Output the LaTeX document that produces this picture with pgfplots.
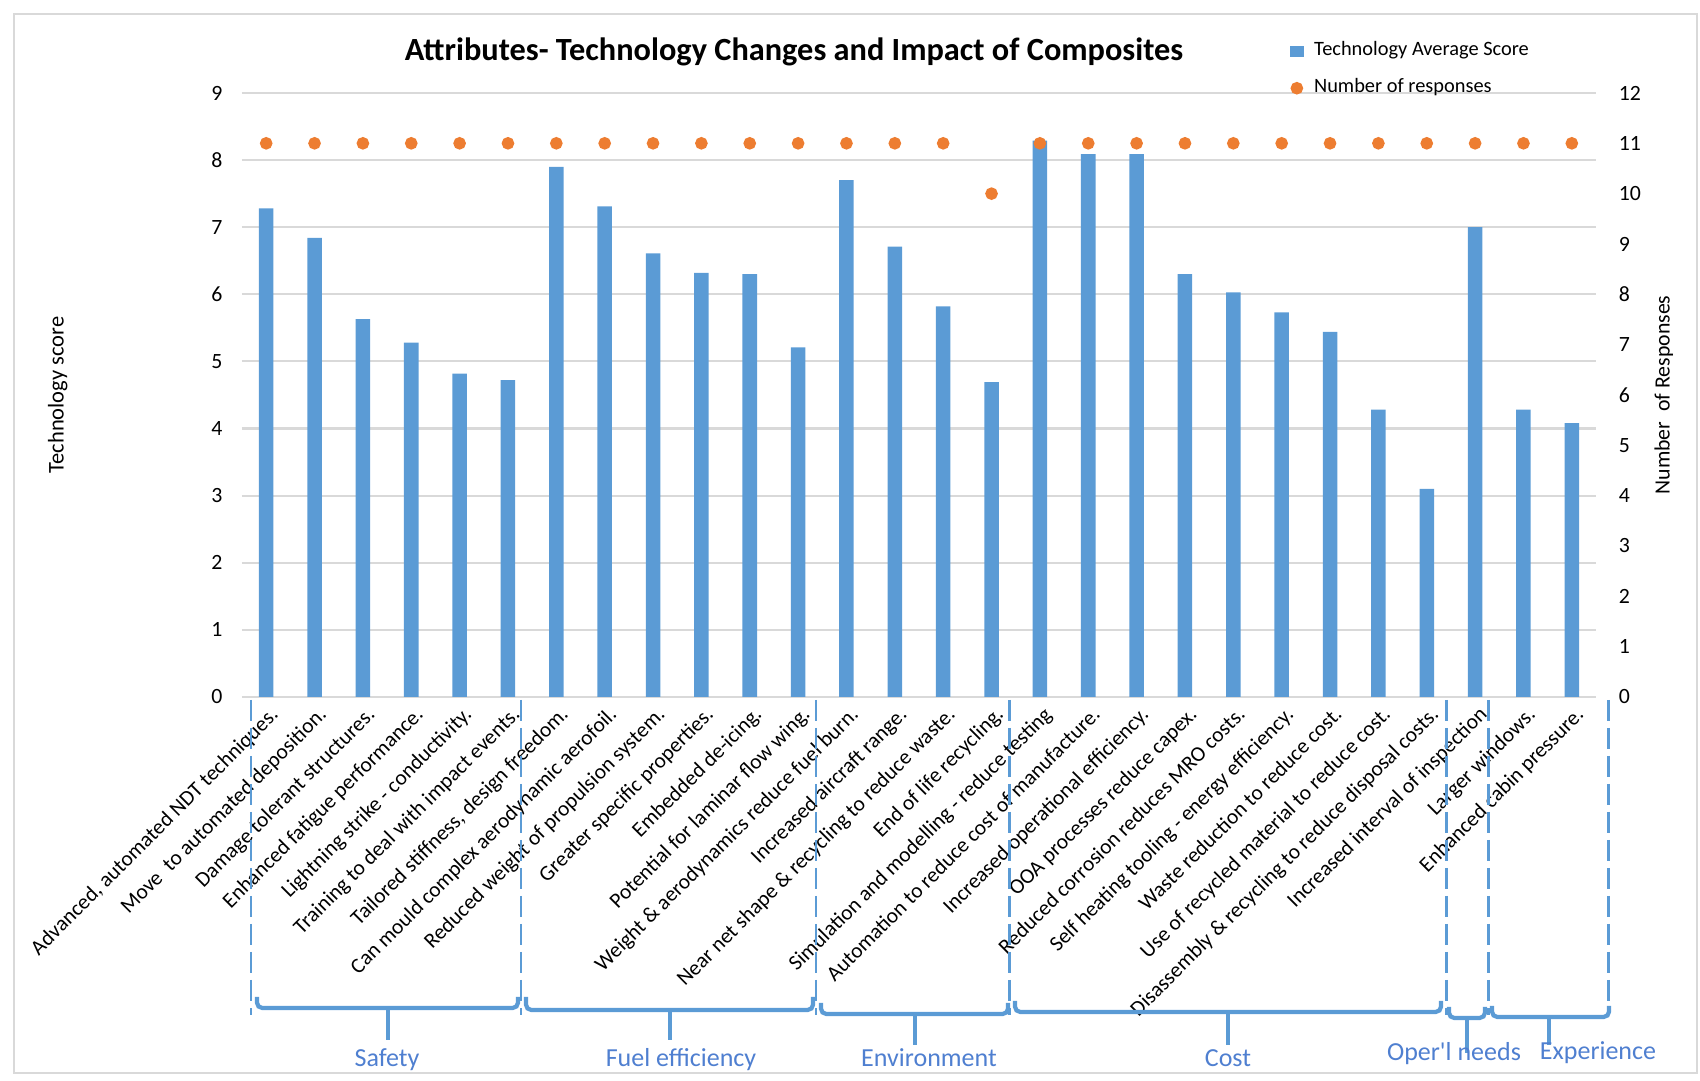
\documentclass[border=0pt]{standalone}
\usepackage{fontspec}
\setmainfont{Carlito}
\newfontfamily\grpfont{Carlito}[Ligatures=TeXOff]
\usepackage{pgfplots}
\pgfplotsset{compat=1.18}
\definecolor{barblue}{HTML}{5B9BD5}
\definecolor{dotorange}{HTML}{ED7D31}
\definecolor{gridgray}{HTML}{D9D9D9}
\definecolor{grouptext}{HTML}{4F7FD0}
\newcommand{\ticksize}{\fontsize{6.2}{7}\selectfont}
\pgfplotsset{
  dotlegend/.style={legend image code/.code={%
    \draw[mark repeat=2, mark phase=2, ##1] plot coordinates {(-0.06cm,0cm) (0cm,0cm) (0.06cm,0cm)};}},
  squarelegend/.style={legend image code/.code={%
    \fill[barblue] (-0.06cm,-0.05cm) rectangle (0.06cm,0.05cm);}},
}

\begin{document}
\begin{tikzpicture}
\useasboundingbox (-2.42,-3.84) rectangle (14.58,6.97);
\draw[gridgray, line width=0.5pt] (-2.28,-3.76) rectangle (14.55,6.83);

\begin{axis}[
  scale only axis, width=13.54cm, height=6.04cm,
  xmin=-0.5, xmax=27.5, ymin=0, ymax=9,
  axis x line*=bottom, axis y line*=left,
  x axis line style={draw=gridgray, line width=0.7pt, -},
  y axis line style={draw=none},
  major tick length=0pt,
  ytick={0,...,9},
  ymajorgrids, grid style={gridgray, line width=0.6pt},
  xtick={0,...,27},
  xticklabels={
    {Advanced, automated NDT techniques.},
    {Move\ \ to automated deposition.},
    {Damage tolerant structures.},
    {Enhanced fatigue performance.},
    {Lightning strike - conductivity.},
    {Training to deal with impact events.},
    {Tailored stiffness, design freedom.},
    {Can mould complex aerodynamic aerofoil.},
    {Reduced weight of propulsion system.},
    {Greater specific properties.},
    {Embedded de-icing.},
    {Potential for laminar flow wing.},
    {Weight \& aerodynamics reduce fuel burn.},
    {Increased aircraft range.},
    {Near net shape \& recycling to reduce waste.},
    {End of life recycling.},
    {Simulation and modelling - reduce testing},
    {Automation to reduce cost of manufacture.},
    {Increased operational efficiency.},
    {OOA processes reduce capex.},
    {Reduced corrosion reduces MRO costs.},
    {Self heating tooling - energy efficiency.},
    {Waste reduction to reduce cost.},
    {Use of recycled material to reduce cost.},
    {Disassembly \& recycling to reduce disposal costs.},
    {Increased interval of inspection},
    {Larger windows.},
    {Enhanced cabin pressure.}},
  xticklabel style={font=\fontsize{6.1}{7}\selectfont, rotate=45, anchor=north east, inner sep=1pt, yshift=-1pt},
  yticklabel style={font=\ticksize, anchor=east, inner sep=0pt, xshift=-5.4pt},
  /pgf/number format/assume math mode=true,
  every axis y label/.style={at={(rel axis cs:-0.136,0.5)}, rotate=90, anchor=center},
  ylabel={Technology score},
  ylabel style={font=\fontsize{6.4}{7}\selectfont},
  clip=false,
]
\addplot[ybar, bar width=0.3, fill=barblue, draw=none] coordinates {
  (0,7.28) (1,6.84) (2,5.63) (3,5.28) (4,4.82) (5,4.72)
  (6,7.90) (7,7.31) (8,6.61) (9,6.32) (10,6.30) (11,5.21)
  (12,7.70) (13,6.71) (14,5.82) (15,4.69)
  (16,8.29) (17,8.09) (18,8.09) (19,6.30) (20,6.03) (21,5.73) (22,5.44) (23,4.28) (24,3.10)
  (25,7.00) (26,4.28) (27,4.08)};
\end{axis}

\begin{axis}[
  scale only axis, width=13.54cm, height=6.04cm,
  xmin=-0.5, xmax=27.5, ymin=0, ymax=12,
  axis x line=none, axis y line*=right,
  y axis line style={draw=none},
  major tick length=0pt,
  ytick={0,...,12},
  yticklabel style={font=\ticksize, anchor=west, inner sep=0pt, xshift=6.3pt},
  /pgf/number format/assume math mode=true,
  every axis y label/.style={at={(rel axis cs:1.05,0.5)}, rotate=90, anchor=center},
  ylabel={Number\ \ of Responses},
  ylabel style={font=\fontsize{6.2}{7}\selectfont},
  legend style={draw=none, fill=none, font=\fontsize{5.8}{7}\selectfont,
    at={(rel axis cs:0.7736,1.098)}, anchor=north west,
    row sep=1pt, inner sep=0pt, column sep=1pt},
  legend cell align=left,
  clip=false,
]
\addlegendimage{squarelegend}
\addlegendentry{Technology Average Score}
\addplot[only marks, mark=*, mark size=1.6pt, color=dotorange, dotlegend]
  coordinates {
  (0,11) (1,11) (2,11) (3,11) (4,11) (5,11)
  (6,11) (7,11) (8,11) (9,11) (10,11) (11,11)
  (12,11) (13,11) (14,11) (15,10)
  (16,11) (17,11) (18,11) (19,11) (20,11) (21,11) (22,11) (23,11) (24,11)
  (25,11) (26,11) (27,11)};
\addlegendentry{Number of responses}
\end{axis}

% title
\node[font=\bfseries\fontsize{9.2}{11}\selectfont] at (5.52,6.45) {Attributes- Technology Changes and Impact of Composites};

% group separators
\begin{scope}[barblue, line width=0.85pt, dash pattern=on 0.21cm off 0.07cm]
  \foreach \x in {0.09,2.79,5.74,7.67,12.04,12.46,13.66}
    \draw (\x,-0.03) -- (\x,-3.18);
\end{scope}
% brackets
\begin{scope}[barblue, line width=1.2pt, rounded corners=1.5pt]
  \draw (0.15,-3.00) -- (0.15,-3.11) -- (2.76,-3.11) -- (2.76,-3.00);
  \draw (1.46,-3.11) -- (1.46,-3.43);
  \draw (2.84,-3.00) -- (2.84,-3.13) -- (5.71,-3.13) -- (5.71,-3.00);
  \draw (4.28,-3.13) -- (4.28,-3.43);
  \draw (5.79,-3.06) -- (5.79,-3.17) -- (7.66,-3.17) -- (7.66,-3.06);
  \draw (6.73,-3.17) -- (6.73,-3.48);
  \draw (7.73,-3.04) -- (7.73,-3.15) -- (11.99,-3.15) -- (11.99,-3.04);
  \draw (9.86,-3.15) -- (9.86,-3.48);
  \draw (12.07,-3.10) -- (12.07,-3.21) -- (12.43,-3.21) -- (12.43,-3.10);
  \draw (12.25,-3.21) -- (12.25,-3.56);
  \draw (12.50,-3.09) -- (12.50,-3.20) -- (13.67,-3.20) -- (13.67,-3.09);
  \draw (13.07,-3.20) -- (13.07,-3.48);
\end{scope}
\begin{scope}[every node/.style={font=\grpfont\fontsize{7.4}{9}\selectfont, text=grouptext}]
  \node at (1.45,-3.63) {Safety};
  \node at (4.39,-3.63) {Fuel efficiency};
  \node at (6.87,-3.61) {Environment};
  \node at (9.86,-3.61) {Cost};
  \node at (12.12,-3.57) {Oper'l needs};
  \node at (13.56,-3.56) {Experience};
\end{scope}
\end{tikzpicture}
\end{document}
